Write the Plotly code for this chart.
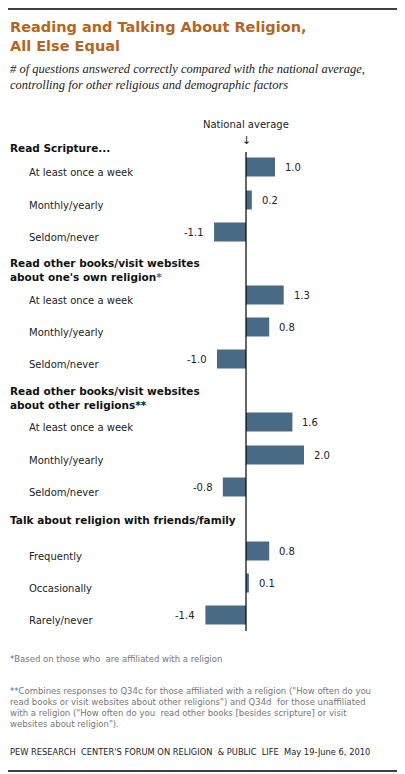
import plotly.graph_objects as go

# chart data
groups = [
    "Read Scripture...",
    "Read other books/visit websites<br>about one's own religion<span style='color:#2f6fb5'>*</span>",
    "Read other books/visit websites<br>about other religions**",
    "Talk about religion with friends/family",
]
items = [
    ["At least once a week", "Monthly/yearly", "Seldom/never"],
    ["At least once a week", "Monthly/yearly", "Seldom/never"],
    ["At least once a week", "Monthly/yearly", "Seldom/never"],
    ["Frequently", "Occasionally", "Rarely/never"],
]
values = [
    [1.0, 0.2, -1.1],
    [1.3, 0.8, -1.0],
    [1.6, 2.0, -0.8],
    [0.8, 0.1, -1.4],
]

# pixel layout (page puts the figure 8px in from the top-left corner)
OFF = 8
W, H = 405 - OFF, 774 - OFF
X0, PX_PER_UNIT = 246 - OFF, 29
header_y = [148, 270, 398, 520]
bar_y = [[167, 200, 232], [295, 327, 359], [422, 455, 487], [551, 583, 615]]

BAR = "#496a84"
FONT = "DejaVu Sans"

def px(x):
    return max(x - OFF, 0) / W

def py(y):
    return y - OFF

fig = go.Figure()
ys, xs, labels = [], [], []
for g in range(4):
    for i in range(3):
        ys.append(py(bar_y[g][i]))
        xs.append(values[g][i])
        labels.append(items[g][i])

fig.add_trace(go.Bar(x=xs, y=ys, orientation="h", width=19,
                     marker=dict(color=BAR, line_width=0), hoverinfo="skip"))

ann = []
for g in range(4):
    ann.append(dict(x=px(5), y=py(header_y[g]), xref="paper", yref="y", text="<b>%s</b>" % groups[g],
                    showarrow=False, xanchor="left", yanchor="middle", align="left",
                    font=dict(family=FONT, size=10.5, color="#111")))
for y, v, lab in zip(ys, xs, labels):
    ann.append(dict(x=px(27), y=y + 5, xref="paper", yref="y", text=lab, showarrow=False,
                    xanchor="left", yanchor="middle", font=dict(family=FONT, size=10, color="#222")))
    ann.append(dict(x=v, y=y, xref="x", yref="y", text="%.1f" % v, showarrow=False,
                    xanchor="left" if v >= 0 else "right", xshift=8 if v >= 0 else -8,
                    yanchor="middle", font=dict(family=FONT, size=10, color="#222")))

ann += [
    dict(x=0, y=py(124), xref="x", yref="y", text="National average", showarrow=False,
         yanchor="middle", font=dict(family=FONT, size=10, color="#222")),
    dict(x=0, y=py(140), xref="x", yref="y", text="↓", showarrow=False,
         yanchor="middle", font=dict(family=FONT, size=11, color="#222")),
    dict(x=px(2), y=py(17), xref="paper", yref="y", text="<b>Reading and Talking About Religion,<br>All Else Equal</b>",
         showarrow=False, xanchor="left", yanchor="top", align="left",
         font=dict(family=FONT, size=14.5, color="#b5651d")),
    dict(x=px(2), y=py(60), xref="paper", yref="y",
         text="<i># of questions answered correctly compared with the national average,<br>controlling for other religious and demographic factors</i>",
         showarrow=False, xanchor="left", yanchor="top", align="left",
         font=dict(family="Liberation Serif", size=12.5, color="#222")),
    dict(x=px(2), y=py(659), xref="paper", yref="y", text="<span style='color:#2f6fb5'>*</span>Based on those who  are affiliated with a religion",
         showarrow=False, xanchor="left", yanchor="middle", font=dict(family=FONT, size=8.5, color="#777")),
    dict(x=px(2), y=py(684), xref="paper", yref="y",
         text="<span style='color:#2f6fb5'>**</span>Combines responses to Q34c for those affiliated with a religion (\"How often do you<br>read books or visit websites about other religions\") and Q34d  for those unaffiliated<br>with a religion (\"How often do you  read other books [besides scripture] or visit<br>websites about religion\").",
         showarrow=False, xanchor="left", yanchor="top", align="left",
         font=dict(family=FONT, size=8.5, color="#777")),
    dict(x=px(2), y=py(752), xref="paper", yref="y",
         text="PEW RESEARCH  CENTER'S FORUM ON RELIGION  & PUBLIC  LIFE  May 19-June 6, 2010",
         showarrow=False, xanchor="left", yanchor="middle", font=dict(family=FONT, size=8.3, color="#222")),
]

shapes = [
    dict(type="line", xref="x", yref="y", x0=0, x1=0, y0=py(152), y1=py(631), line=dict(color="black", width=1.2)),
    dict(type="line", xref="paper", yref="y", x0=0, x1=1, y0=1, y1=1, line=dict(color="black", width=1.5)),
    dict(type="line", xref="paper", yref="y", x0=0, x1=1, y0=py(771), y1=py(771), line=dict(color="black", width=1.5)),
]

fig.update_layout(
    width=W, height=H, margin=dict(l=0, r=0, t=0, b=0),
    plot_bgcolor="white", paper_bgcolor="white", showlegend=False,
    xaxis=dict(range=[-X0 / PX_PER_UNIT, (W - X0) / PX_PER_UNIT], visible=False, fixedrange=True),
    yaxis=dict(range=[H, 0], visible=False, fixedrange=True),
    annotations=ann, shapes=shapes,
)
fig.write_html("out.html", config={"displayModeBar": False})
